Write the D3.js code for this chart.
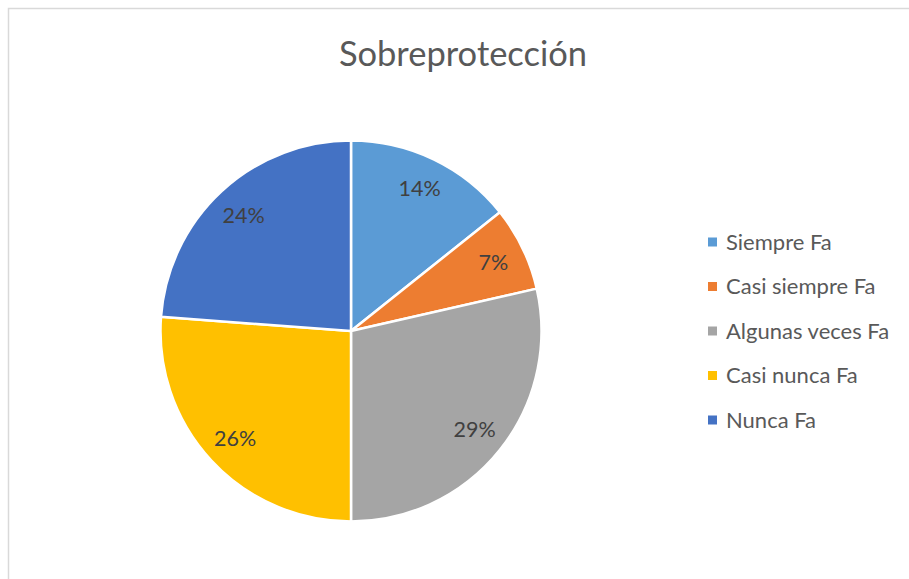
<!DOCTYPE html>
<html>
<head>
<meta charset="utf-8">
<script src="https://cdn.jsdelivr.net/npm/d3@7"></script>
<style>
  html, body { margin: 0; padding: 0; background: #fff; }
  svg { display: block; }
</style>
</head>
<body>
<svg id="chart" width="909" height="579"></svg>
<script>
const title = "Sobreprotección";
const categories = ["Siempre Fa", "Casi siempre Fa", "Algunas veces Fa", "Casi nunca Fa", "Nunca Fa"];
const values = [6, 3, 12, 11, 10];
const colors = ["#5B9BD5", "#ED7D31", "#A5A5A5", "#FFC000", "#4472C4"];

const svg = d3.select("#chart");
const font = "Lato, 'Open Sans', sans-serif";

// chart area border
svg.append("rect")
  .attr("x", 8.5).attr("y", 8.5)
  .attr("width", 920).attr("height", 600)
  .attr("fill", "#fff")
  .attr("stroke", "#d9d9d9").attr("stroke-width", 1.5);

svg.append("text")
  .attr("x", 463).attr("y", 66)
  .attr("text-anchor", "middle")
  .attr("font-family", font)
  .attr("font-size", 34.5)
  .attr("fill", "#595959")
  .text(title);

const cx = 351, cy = 331, r = 190.5;
const total = d3.sum(values);
const data = categories.map((c, i) => ({ cat: c, value: values[i], color: colors[i] }));
const pie = d3.pie().value(d => d.value).sort(null);
const arcs = pie(data);
const arc = d3.arc().innerRadius(0).outerRadius(r);
const labelArc = d3.arc().innerRadius(158).outerRadius(158);

const g = svg.append("g").attr("transform", `translate(${cx},${cy})`);
g.selectAll("path.slice").data(arcs).enter().append("path")
  .attr("class", "slice")
  .attr("d", arc)
  .attr("fill", d => d.data.color)
  .attr("stroke", "#fff")
  .attr("stroke-width", 2.5)
  .attr("stroke-linejoin", "round");

g.selectAll("text.lbl").data(arcs).enter().append("text")
  .attr("class", "lbl")
  .attr("transform", d => `translate(${labelArc.centroid(d)})`)
  .attr("text-anchor", "middle")
  .attr("dy", "0.35em")
  .attr("font-family", font)
  .attr("font-size", 21.5)
  .attr("fill", "#404040")
  .text(d => Math.round(d.data.value / total * 100) + "%");

const ly = d3.scalePoint().domain(categories).range([242, 420]);
const lg = svg.append("g");
const items = lg.selectAll("g.item").data(data).enter().append("g")
  .attr("class", "item")
  .attr("transform", d => `translate(708,${ly(d.cat)})`);
items.append("rect")
  .attr("x", 0).attr("y", -4.5)
  .attr("width", 9).attr("height", 9)
  .attr("fill", d => d.color);
items.append("text")
  .attr("x", 18).attr("dy", "0.35em")
  .attr("font-family", font)
  .attr("font-size", 22)
  .attr("fill", "#595959")
  .text(d => d.cat);
</script>
</body>
</html>
